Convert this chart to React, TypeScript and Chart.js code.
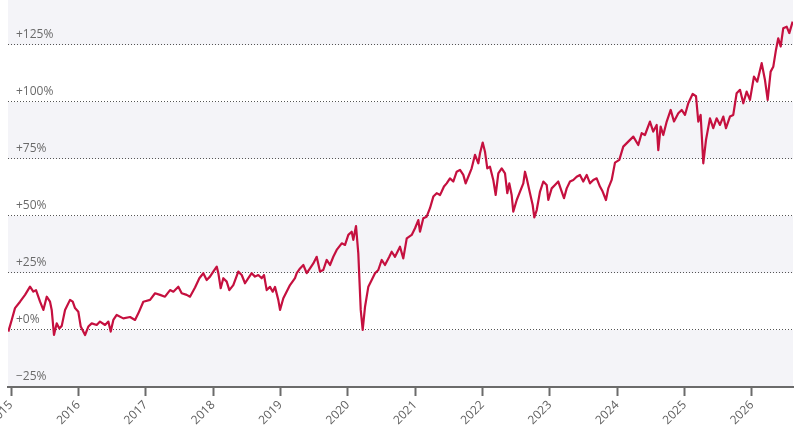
import { useEffect, useRef } from 'react';
import { Chart, registerables } from 'chart.js';

Chart.register(...registerables);

// time axis in decimal years, values in % change
const YEARS = [
  2014.96, 2015.01, 2015.059, 2015.134, 2015.208, 2015.282, 2015.331, 2015.371, 2015.431, 2015.48,
  2015.53, 2015.579, 2015.604, 2015.638, 2015.678, 2015.717, 2015.753, 2015.802, 2015.876, 2015.916,
  2015.95, 2015.999, 2016.035, 2016.099, 2016.148, 2016.198, 2016.272, 2016.321, 2016.396, 2016.445,
  2016.48, 2016.519, 2016.569, 2016.667, 2016.767, 2016.841, 2016.89, 2016.964, 2017.064, 2017.138,
  2017.212, 2017.286, 2017.361, 2017.41, 2017.484, 2017.534, 2017.608, 2017.657, 2017.732, 2017.796,
  2017.855, 2017.905, 2017.954, 2018.003, 2018.054, 2018.078, 2018.113, 2018.152, 2018.202, 2018.241,
  2018.3, 2018.374, 2018.425, 2018.474, 2018.523, 2018.573, 2018.622, 2018.671, 2018.722, 2018.756,
  2018.796, 2018.845, 2018.885, 2018.919, 2018.968, 2018.994, 2019.043, 2019.142, 2019.216, 2019.242,
  2019.291, 2019.34, 2019.39, 2019.439, 2019.488, 2019.538, 2019.587, 2019.636, 2019.687, 2019.736,
  2019.785, 2019.835, 2019.91, 2019.959, 2020.008, 2020.058, 2020.082, 2020.122, 2020.156, 2020.192,
  2020.221, 2020.256, 2020.305, 2020.355, 2020.404, 2020.453, 2020.503, 2020.552, 2020.616, 2020.652,
  2020.701, 2020.775, 2020.824, 2020.875, 2020.949, 2020.998, 2021.047, 2021.072, 2021.121, 2021.171,
  2021.22, 2021.27, 2021.32, 2021.369, 2021.394, 2021.428, 2021.468, 2021.517, 2021.566, 2021.617,
  2021.666, 2021.715, 2021.75, 2021.789, 2021.839, 2021.889, 2021.938, 2021.963, 2022.003, 2022.037,
  2022.071, 2022.111, 2022.16, 2022.196, 2022.235, 2022.285, 2022.334, 2022.368, 2022.398, 2022.433,
  2022.457, 2022.508, 2022.557, 2022.606, 2022.631, 2022.656, 2022.705, 2022.745, 2022.769, 2022.805,
  2022.854, 2022.903, 2022.953, 2022.977, 2023.027, 2023.076, 2023.125, 2023.176, 2023.21, 2023.25,
  2023.299, 2023.348, 2023.398, 2023.447, 2023.496, 2023.547, 2023.596, 2023.645, 2023.695, 2023.744,
  2023.784, 2023.833, 2023.867, 2023.918, 2023.967, 2024.031, 2024.09, 2024.164, 2024.239, 2024.313,
  2024.363, 2024.412, 2024.486, 2024.535, 2024.586, 2024.61, 2024.645, 2024.684, 2024.735, 2024.794,
  2024.843, 2024.907, 2024.957, 2025.006, 2025.055, 2025.12, 2025.17, 2025.204, 2025.239, 2025.278,
  2025.318, 2025.377, 2025.426, 2025.476, 2025.526, 2025.575, 2025.615, 2025.674, 2025.723, 2025.773,
  2025.823, 2025.872, 2025.922, 2025.971, 2026.03, 2026.079, 2026.145, 2026.194, 2026.234, 2026.278,
  2026.317, 2026.357, 2026.391, 2026.427, 2026.465, 2026.516, 2026.555, 2026.605,
];

const CHANGE = [
  -0.7, 4.4, 9.6, 12.4, 15.4, 19.0, 16.8, 17.5, 12.4, 8.8,
  14.6, 12.4, 8.8, -2.2, 2.9, 0.7, 1.8, 8.8, 13.2, 12.4,
  9.6, 8.0, 1.5, -2.2, 1.5, 2.9, 2.2, 3.7, 2.2, 3.7,
  -0.7, 4.4, 6.6, 5.1, 5.7, 4.4, 7.3, 12.4, 13.2, 16.1,
  15.4, 14.6, 17.5, 16.8, 19.0, 16.1, 15.4, 14.6, 18.6, 22.7,
  24.9, 21.9, 23.4, 25.6, 27.8, 24.9, 18.3, 22.7, 21.2, 17.5,
  19.7, 25.6, 24.1, 20.5, 22.7, 24.9, 23.4, 24.1, 22.7, 24.1,
  17.5, 18.9, 16.8, 18.9, 13.2, 8.8, 13.9, 19.7, 22.7, 24.9,
  27.0, 28.5, 24.9, 27.0, 29.2, 32.1, 25.6, 26.3, 30.7, 28.5,
  32.1, 35.1, 38.0, 37.3, 41.7, 43.1, 39.5, 45.6, 33.6, 8.8,
  0.0, 10.2, 19.0, 21.9, 24.9, 26.3, 30.7, 28.5, 32.1, 34.3,
  32.1, 36.5, 31.4, 40.2, 41.7, 44.6, 48.2, 43.1, 49.0, 49.7,
  53.4, 58.5, 60.0, 59.2, 60.7, 62.9, 64.3, 66.5, 65.1, 69.4,
  70.2, 68.0, 64.3, 67.2, 70.9, 76.8, 73.1, 77.5, 82.2, 78.2,
  70.9, 71.6, 65.8, 59.2, 68.7, 70.9, 68.7, 60.0, 64.3, 59.2,
  51.9, 57.0, 60.7, 64.3, 69.4, 66.5, 60.0, 54.8, 49.4, 52.6,
  60.7, 65.1, 63.6, 57.0, 62.1, 63.6, 65.1, 60.7, 57.8, 62.1,
  65.1, 65.8, 67.2, 68.0, 65.1, 68.0, 64.3, 65.8, 66.5, 62.9,
  60.7, 57.0, 62.1, 65.8, 73.4, 74.6, 80.4, 82.6, 84.8, 81.1,
  86.3, 85.5, 91.4, 87.0, 89.9, 78.9, 89.2, 85.5, 91.4, 96.5,
  91.4, 95.0, 96.5, 94.3, 99.4, 103.5, 102.5, 91.4, 94.3, 73.1,
  83.3, 92.8, 88.5, 92.8, 89.9, 93.6, 88.5, 93.6, 94.3, 103.8,
  105.3, 99.4, 104.5, 100.9, 111.1, 108.9, 117.0, 109.6, 100.9, 113.3,
  115.4, 122.8, 127.9, 124.3, 132.3, 133.0, 130.2, 135.2,
];

const YEAR_TICKS = [2015, 2016, 2017, 2018, 2019, 2020, 2021, 2022, 2023, 2024, 2025, 2026];
const PCT_TICKS = [-25, 0, 25, 50, 75, 100, 125];

const LINE = '#c5103f';
const BAND = '#f4f4f8';
const AXIS = '#6b6b6b';
const FONT = '"Open Sans", sans-serif';

const bandPlugin = {
  id: 'bands',
  beforeDraw(chart: any) {
    const { ctx, chartArea, scales } = chart;
    const y = scales.y;
    const edges = [...PCT_TICKS, y.max];
    ctx.save();
    ctx.fillStyle = BAND;
    for (let i = 0; i < edges.length - 1; i++) {
      if (i % 2 !== 0) continue;
      const top = y.getPixelForValue(edges[i + 1]);
      const bottom = y.getPixelForValue(edges[i]);
      ctx.fillRect(chartArea.left, top, chartArea.right - chartArea.left, bottom - top);
    }
    ctx.restore();
  },
};

export default function App() {
  const canvasRef = useRef<HTMLCanvasElement>(null);
  const chartRef = useRef<Chart | null>(null);

  useEffect(() => {
    if (!canvasRef.current) return;
    if (chartRef.current) chartRef.current.destroy();

    chartRef.current = new Chart(canvasRef.current, {
      type: 'line',
      data: {
        datasets: [
          {
            data: YEARS.map((x, i) => ({ x, y: CHANGE[i] })),
            borderColor: LINE,
            borderWidth: 2.2,
            pointRadius: 0,
            tension: 0,
            borderJoinStyle: 'round',
          },
        ],
      },
      options: {
        animation: false,
        responsive: true,
        maintainAspectRatio: false,
        layout: { padding: { left: 8, right: 6, top: 0, bottom: 0 } },
        plugins: {
          legend: { display: false },
          tooltip: { enabled: false },
        },
        scales: {
          x: {
            type: 'linear',
            min: 2014.955,
            max: 2026.61,
            afterBuildTicks: (s: any) => {
              s.ticks = YEAR_TICKS.map((v) => ({ value: v }));
            },
            afterFit: (s: any) => {
              s.paddingLeft = 0;
              s.paddingRight = 0;
              s.paddingTop = 0;
              s.paddingBottom = 0;
              s.height = 48;
            },
            ticks: {
              autoSkip: false,
              minRotation: 45,
              maxRotation: 45,
              padding: 2,
              color: '#606060',
              font: { family: FONT, size: 12 },
              callback: (v: any) => String(v),
            },
            grid: {
              drawOnChartArea: false,
              drawTicks: true,
              tickLength: 9,
              tickWidth: 2,
              tickColor: AXIS,
            },
            border: { display: true, color: AXIS, width: 2 },
          },
          y: {
            min: -25,
            max: 144.7,
            afterBuildTicks: (s: any) => {
              s.ticks = PCT_TICKS.map((v) => ({ value: v }));
            },
            afterFit: (s: any) => {
              s.width = 0;
              s.paddingTop = 0;
              s.paddingBottom = 0;
              s.paddingLeft = 0;
              s.paddingRight = 0;
            },
            ticks: {
              mirror: true,
              padding: 8,
              labelOffset: -10,
              color: '#6a6a6a',
              font: { family: FONT, size: 12 },
              callback: (v: any) => (v < 0 ? '\u2212' : '+') + Math.abs(v) + '%',
            },
            grid: { color: '#555', lineWidth: 1, drawTicks: false },
            border: { display: false, dash: [1, 2] },
          },
        },
      },
      plugins: [bandPlugin],
    });

    return () => {
      if (chartRef.current) {
        chartRef.current.destroy();
        chartRef.current = null;
      }
    };
  }, []);

  return (
    <div style={{ position: 'absolute', left: 0, top: 0, width: 799, height: 435, background: '#fff' }}>
      <canvas ref={canvasRef} />
    </div>
  );
}
